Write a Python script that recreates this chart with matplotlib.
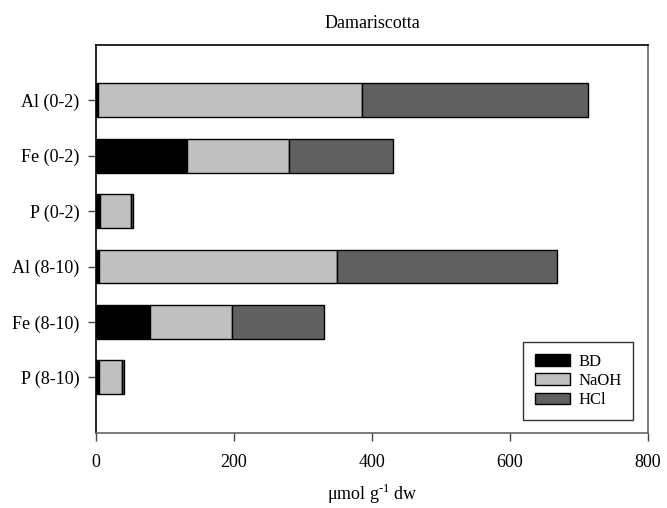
import numpy as np
import matplotlib.pyplot as plt

plt.rcParams['font.family'] = ['Liberation Serif', 'DejaVu Serif']
plt.rcParams['mathtext.fontset'] = 'custom'
plt.rcParams['mathtext.rm'] = 'Liberation Serif'
plt.rcParams['axes.unicode_minus'] = False

# fractions, bottom row first
samples = ["P (8-10)", "Fe (8-10)", "Al (8-10)", "P (0-2)", "Fe (0-2)", "Al (0-2)"]
bd = [4, 78, 5, 6, 132, 3]
naoh = [34, 119, 344, 44, 148, 382]
hcl = [3, 133, 319, 3, 150, 328]

colors = {"BD": "#000000", "NaOH": "#c0c0c0", "HCl": "#606060"}

fig = plt.figure(figsize=(6.67, 5.08), dpi=100)
ax = fig.add_axes([96 / 667, 1 - 432.7 / 508, (648 - 96) / 667, (432.7 - 45) / 508])

y = np.arange(1, len(samples) + 1)
left = np.zeros(len(samples))
for name, vals in [("BD", bd), ("NaOH", naoh), ("HCl", hcl)]:
    ax.barh(y, vals, left=left, height=0.61, color=colors[name],
            edgecolor="black", linewidth=1, label=name)
    left = left + np.array(vals)

ax.set_xlim(0, 800)
ax.set_ylim(0, 7)
ax.set_xticks(np.arange(0, 801, 200))
ax.set_yticks(y)
ax.set_yticklabels(samples)
ax.tick_params(axis="both", direction="out", length=6, width=1, colors="#444444",
               labelsize=13, labelcolor="black")
ax.tick_params(axis="x", pad=9)
ax.tick_params(axis="y", pad=6)

for side in ["top", "left"]:
    ax.spines[side].set_color("black")
for side in ["bottom", "right"]:
    ax.spines[side].set_color("#666666")
for s in ax.spines.values():
    s.set_linewidth(1.2)

ax.set_title("Damariscotta", fontsize=13, pad=12)
ax.set_xlabel("\u03bcmol g$^{\\mathregular{\u2010}1}$ dw", fontsize=13, labelpad=8)

leg = ax.legend(loc="lower right", bbox_to_anchor=(633.3 / 667, 1 - 420 / 508),
                bbox_transform=fig.transFigure, fontsize=12, frameon=True,
                fancybox=False, edgecolor="black", handlelength=2.1,
                handleheight=0.72, labelspacing=0.2, borderpad=0.7,
                handletextpad=0.5, borderaxespad=0)
leg.get_frame().set_linewidth(1)

fig.savefig("out.png", dpi=100)
